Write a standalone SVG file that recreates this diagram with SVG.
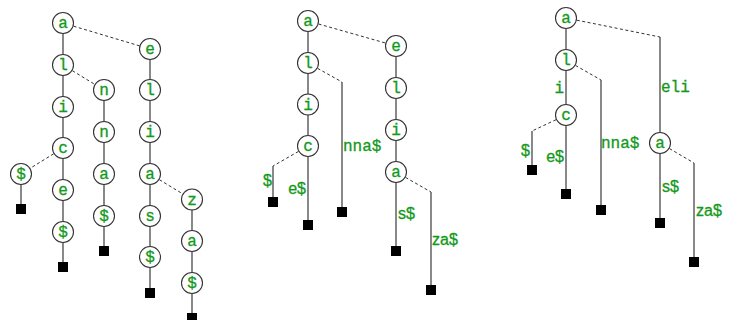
<svg xmlns="http://www.w3.org/2000/svg" width="735" height="320" viewBox="0 0 735 320">
<defs>
<style>
.e{stroke:#3a3a3a;stroke-width:1.2;fill:none}
.d{stroke:#333;stroke-width:1;fill:none;stroke-dasharray:3,2.5}
.n circle{fill:#fff;stroke:#333;stroke-width:1.1}
.n text,.lm{font-family:"Liberation Mono",monospace;font-size:16px;fill:#12991a;stroke:#12991a;stroke-width:0.3}
.n text{text-anchor:middle}
.ls{font-family:"Liberation Sans",Arial,sans-serif;font-size:16px;fill:#12991a;stroke:#12991a;stroke-width:0.3}
.lf{fill:#000}
</style>
</defs>
<rect width="735" height="320" fill="#fff"/>
<g id="connectors">
<path class="e" d="M63,23V267"/>
<path class="d" d="M63,23L150,49"/>
<path class="d" d="M63,65L104,90"/>
<path class="e" d="M104,90V251"/>
<path class="d" d="M63,148L21,174"/>
<path class="e" d="M21,174V209"/>
<path class="e" d="M150,49V293"/>
<path class="d" d="M150,174L192,199.5"/>
<path class="e" d="M192,199.5V318"/>
<path class="e" d="M308,21V225"/>
<path class="d" d="M308,21L396,46"/>
<path class="e" d="M396,46V251"/>
<path class="d" d="M308,63L342,82"/>
<path class="e" d="M342,82V212"/>
<path class="d" d="M308,146L273,166"/>
<path class="e" d="M273,166V202"/>
<path class="d" d="M396,172L431,192"/>
<path class="e" d="M431,192V290"/>
<path class="e" d="M566,18V194"/>
<path class="d" d="M566,18L660,37"/>
<path class="e" d="M660,37V223"/>
<path class="d" d="M566,60L601,80"/>
<path class="e" d="M601,80V210"/>
<path class="d" d="M566,115L532,131"/>
<path class="e" d="M532,131V170"/>
<path class="d" d="M660,143L694,163"/>
<path class="e" d="M694,163V262"/>
</g>
<g id="labels">
<text class="lm" x="343" y="151">nna$</text>
<text class="ls" x="272" y="186" text-anchor="end">$</text>
<text class="ls" x="306" y="194" text-anchor="end">e$</text>
<text class="ls" x="398" y="219">s$</text>
<text class="ls" x="432" y="245">za$</text>
<text class="lm" x="564" y="93" text-anchor="end">i</text>
<text class="lm" x="661" y="92">eli</text>
<text class="lm" x="601" y="148">nna$</text>
<text class="ls" x="530" y="156" text-anchor="end">$</text>
<text class="ls" x="564" y="162" text-anchor="end">e$</text>
<text class="ls" x="662" y="192">s$</text>
<text class="ls" x="696" y="216">za$</text>
</g>
<g id="leaves" class="lf">
<rect x="16" y="204" width="10" height="10"/>
<rect x="58" y="262" width="10" height="10"/>
<rect x="99" y="246" width="10" height="10"/>
<rect x="145" y="288" width="10" height="10"/>
<rect x="187" y="313" width="10" height="10"/>
<rect x="268" y="197" width="10" height="10"/>
<rect x="303" y="220" width="10" height="10"/>
<rect x="337" y="207" width="10" height="10"/>
<rect x="391" y="246" width="10" height="10"/>
<rect x="426" y="285" width="10" height="10"/>
<rect x="527" y="165" width="10" height="10"/>
<rect x="561" y="189" width="10" height="10"/>
<rect x="596" y="205" width="10" height="10"/>
<rect x="655" y="218" width="10" height="10"/>
<rect x="689" y="257" width="10" height="10"/>
</g>
<g id="t1-a" class="n"><circle cx="63" cy="23" r="10.5"/><text x="63" y="28">a</text></g>
<g id="t1-l" class="n"><circle cx="63" cy="65" r="10.5"/><text x="63" y="70">l</text></g>
<g id="t1-i" class="n"><circle cx="63" cy="107" r="10.5"/><text x="63" y="112">i</text></g>
<g id="t1-c" class="n"><circle cx="63" cy="148" r="10.5"/><text x="63" y="153">c</text></g>
<g id="t1-e" class="n"><circle cx="63" cy="190" r="10.5"/><text x="63" y="195">e</text></g>
<g id="t1-d1" class="n"><circle cx="63" cy="232" r="10.5"/><text x="63" y="237">$</text></g>
<g id="t1-d2" class="n"><circle cx="21" cy="174" r="10.5"/><text x="21" y="179">$</text></g>
<g id="t1-n1" class="n"><circle cx="104" cy="90" r="10.5"/><text x="104" y="95">n</text></g>
<g id="t1-n2" class="n"><circle cx="104" cy="132" r="10.5"/><text x="104" y="137">n</text></g>
<g id="t1-a2" class="n"><circle cx="104" cy="174" r="10.5"/><text x="104" y="179">a</text></g>
<g id="t1-d3" class="n"><circle cx="104" cy="216" r="10.5"/><text x="104" y="221">$</text></g>
<g id="t1-e2" class="n"><circle cx="150" cy="49" r="10.5"/><text x="150" y="54">e</text></g>
<g id="t1-l2" class="n"><circle cx="150" cy="90" r="10.5"/><text x="150" y="95">l</text></g>
<g id="t1-i2" class="n"><circle cx="150" cy="132" r="10.5"/><text x="150" y="137">i</text></g>
<g id="t1-a3" class="n"><circle cx="150" cy="174" r="10.5"/><text x="150" y="179">a</text></g>
<g id="t1-s" class="n"><circle cx="150" cy="216" r="10.5"/><text x="150" y="221">s</text></g>
<g id="t1-d4" class="n"><circle cx="150" cy="257" r="10.5"/><text x="150" y="262">$</text></g>
<g id="t1-z" class="n"><circle cx="192" cy="199.5" r="10.5"/><text x="192" y="204.5">z</text></g>
<g id="t1-a4" class="n"><circle cx="192" cy="241" r="10.5"/><text x="192" y="246">a</text></g>
<g id="t1-d5" class="n"><circle cx="192" cy="283" r="10.5"/><text x="192" y="288">$</text></g>
<g id="t2-a" class="n"><circle cx="308" cy="21" r="10.5"/><text x="308" y="26">a</text></g>
<g id="t2-l" class="n"><circle cx="308" cy="63" r="10.5"/><text x="308" y="68">l</text></g>
<g id="t2-i" class="n"><circle cx="308" cy="104.5" r="10.5"/><text x="308" y="109.5">i</text></g>
<g id="t2-c" class="n"><circle cx="308" cy="146" r="10.5"/><text x="308" y="151">c</text></g>
<g id="t2-e" class="n"><circle cx="396" cy="46" r="10.5"/><text x="396" y="51">e</text></g>
<g id="t2-l2" class="n"><circle cx="396" cy="88" r="10.5"/><text x="396" y="93">l</text></g>
<g id="t2-i2" class="n"><circle cx="396" cy="130" r="10.5"/><text x="396" y="135">i</text></g>
<g id="t2-a2" class="n"><circle cx="396" cy="172" r="10.5"/><text x="396" y="177">a</text></g>
<g id="t3-a" class="n"><circle cx="566" cy="18" r="10.5"/><text x="566" y="23">a</text></g>
<g id="t3-l" class="n"><circle cx="566" cy="60" r="10.5"/><text x="566" y="65">l</text></g>
<g id="t3-c" class="n"><circle cx="566" cy="115" r="10.5"/><text x="566" y="120">c</text></g>
<g id="t3-a2" class="n"><circle cx="660" cy="143" r="10.5"/><text x="660" y="148">a</text></g>
</svg>
